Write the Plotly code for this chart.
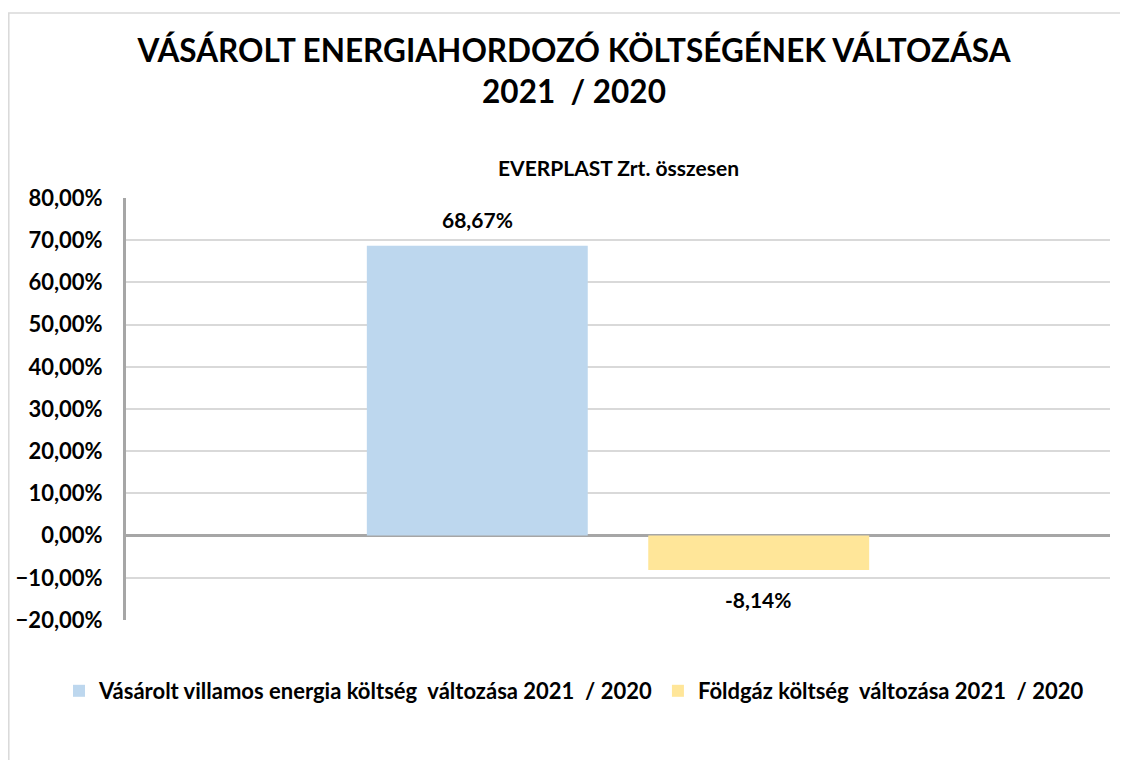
import plotly.graph_objects as go

# ---- data ----
category = ["EVERPLAST Zrt. összesen"]
series_names = [
    "Vásárolt villamos energia költség\u00a0 változása 2021\u00a0 / 2020",
    "Földgáz költség\u00a0 változása 2021\u00a0 / 2020",
]
series_values = [0.6867, -0.0814]
series_colors = ["#BDD7EE", "#FFE699"]
tick_values = [-0.2, -0.1, 0.0, 0.1, 0.2, 0.3, 0.4, 0.5, 0.6, 0.7, 0.8]

title_text = "VÁSÁROLT ENERGIAHORDOZÓ KÖLTSÉGÉNEK VÁLTOZÁSA<br>2021\u00a0 / 2020"
subtitle_text = "EVERPLAST Zrt. összesen"

FONT = "Lato"

# page offset of the figure (default body margin) and layout constants (pixels)
OFF = 8
W, H = 1128 - OFF, 760 - OFF
L, T = 126 - OFF, 198 - OFF
R = W - (1110 - OFF)
B = H - (620 - OFF)
plot_w = W - L - R
plot_h = H - T - B
bargap = 0.428
bargroupgap = 0.215


def py(screen_y):
    """screen pixel y -> paper y"""
    return (T + plot_h - (screen_y - OFF)) / plot_h


def px(screen_x):
    return (screen_x - OFF - L) / plot_w


fig = go.Figure()
for name, val, col in zip(series_names, series_values, series_colors):
    fig.add_trace(go.Bar(
        x=category, y=[val], name=name,
        marker=dict(color=col, line=dict(width=0)),
        hoverinfo="skip",
    ))

# data labels as annotations placed relative to each bar
n = len(series_values)
slot = (1 - bargap) / n
for i, val in enumerate(series_values):
    offset_units = -(1 - bargap) / 2 + slot * (i + 0.5)
    fig.add_annotation(
        x=category[0], y=val, xref="x", yref="y",
        xshift=offset_units * plot_w,
        yshift=26 if val >= 0 else -30,
        text=f"{val*100:.2f}%".replace(".", ","),
        showarrow=False,
        font=dict(family=FONT, size=21, color="#000000", weight="bold"),
    )

# subtitle
fig.add_annotation(
    x=0.5, y=py(167), xref="paper", yref="paper", yanchor="middle",
    text=subtitle_text, showarrow=False,
    font=dict(family=FONT, size=21, color="#000000", weight="bold"),
)

# chart border
fig.add_shape(
    type="rect", xref="paper", yref="paper",
    x0=px(8.8), x1=px(1140),
    y0=py(775), y1=py(13),
    line=dict(color="#D9D9D9", width=1.5), fillcolor="rgba(0,0,0,0)",
    layer="below",
)

fig.update_layout(
    width=W, height=H,
    margin=dict(l=L, r=R, t=T, b=B, pad=0, autoexpand=False),
    paper_bgcolor="white", plot_bgcolor="white",
    separators=",.",
    barmode="group", bargap=bargap, bargroupgap=bargroupgap,
    title=dict(
        text=title_text, xref="container", yref="container",
        x=(574 - OFF) / W, xanchor="center", y=1 - (62 - OFF) / H, yanchor="top",
        font=dict(family=FONT, size=31.5, color="#000000", weight="bold"),
        automargin=False,
    ),
    showlegend=True,
    legend=dict(
        orientation="h", xref="paper", yref="paper",
        x=px(62 - 15 + 12), xanchor="left",
        y=py(691), yanchor="middle",
        font=dict(family=FONT, size=22, color="#000000", weight="bold"),
        itemwidth=30, traceorder="normal",
        bgcolor="rgba(0,0,0,0)",
    ),
    xaxis=dict(
        showticklabels=False, showgrid=False, showline=False,
        zeroline=False, ticks="", automargin=False,
    ),
    yaxis=dict(
        range=[-0.2, 0.8], tickvals=tick_values, tickformat=".2%",
        showgrid=True, gridcolor="#D9D9D9", gridwidth=1.5,
        zeroline=True, zerolinecolor="#A6A6A6", zerolinewidth=2.5,
        showline=True, linecolor="#A6A6A6", linewidth=3,
        ticks="", ticklabelstandoff=16, automargin=False,
        tickfont=dict(family=FONT, size=22, color="#000000", weight="bold"),
    ),
    font=dict(family=FONT),
)

fig.write_html("out.html")
